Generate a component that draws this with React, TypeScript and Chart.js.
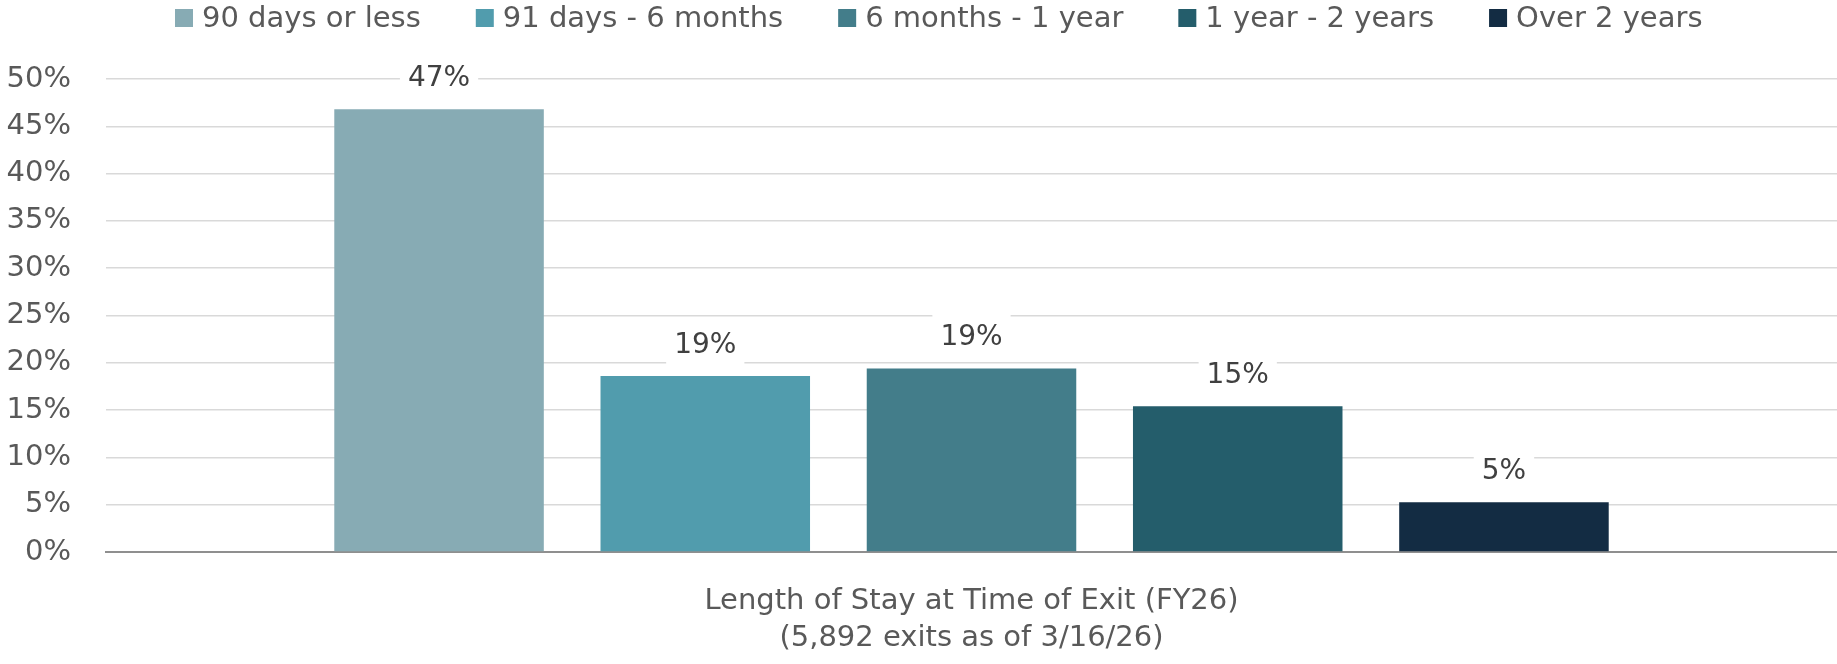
import React, { useEffect, useRef } from "react";
import { Chart, registerables } from "chart.js";

Chart.register(...registerables);

const categories = [""];
const seriesNames = [
  "90 days or less",
  "91 days - 6 months",
  "6 months - 1 year",
  "1 year - 2 years",
  "Over 2 years",
];
const seriesValues = [46.8, 18.6, 19.4, 15.4, 5.25];
const seriesColors = ["#87ABB4", "#519CAD", "#437D8A", "#245D6B", "#132C43"];
const yMax = 50;
const yStep = 5;
const axisTitle = ["Length of Stay at Time of Exit (FY26)", "(5,892 exits as of 3/16/26)"];

const FONT = "'DejaVu Sans', sans-serif";

const legendPlugin = {
  id: "customLegend",
  afterDraw(chart: any) {
    const ctx = chart.ctx;
    ctx.save();
    ctx.font = `29px ${FONT}`;
    ctx.textBaseline = "middle";
    ctx.textAlign = "left";
    let x = 175;
    const box = 18;
    const cy = 18;
    chart.data.datasets.forEach((ds: any) => {
      ctx.fillStyle = ds.backgroundColor;
      ctx.fillRect(x, cy - box / 2, box, box);
      x += box + 9;
      ctx.fillStyle = "#595959";
      ctx.fillText(ds.label, x, cy + 1);
      x += ctx.measureText(ds.label).width + 55;
    });
    ctx.restore();
  },
};

const labelPlugin = {
  id: "barLabels",
  afterDatasetsDraw(chart: any) {
    const ctx = chart.ctx;
    ctx.save();
    ctx.font = `28px ${FONT}`;
    ctx.textAlign = "center";
    ctx.textBaseline = "middle";
    chart.data.datasets.forEach((ds: any, i: number) => {
      const meta = chart.getDatasetMeta(i);
      meta.data.forEach((el: any, j: number) => {
        const v = ds.data[j];
        const text = Math.round(v) + "%";
        const cx = el.x;
        const cy = el.y - 30.5;
        const w = ctx.measureText(text).width + 16;
        ctx.fillStyle = "#ffffff";
        ctx.fillRect(cx - w / 2, cy - 24, w, 44);
        ctx.fillStyle = "#404040";
        ctx.fillText(text, cx, cy);
      });
    });
    ctx.restore();
  },
};

export default function App() {
  const ref = useRef<HTMLCanvasElement | null>(null);
  useEffect(() => {
    if (!ref.current) return;
    const chart = new Chart(ref.current, {
      type: "bar",
      data: {
        labels: categories,
        datasets: seriesNames.map((name, i) => ({
          label: name,
          data: [seriesValues[i]],
          backgroundColor: seriesColors[i],
          borderWidth: 0,
          categoryPercentage: 0.769,
          barPercentage: 0.787,
        })),
      },
      options: {
        responsive: false,
        animation: false,
        layout: { padding: { top: 79, left: 0, right: 0, bottom: 0 } },
        plugins: {
          legend: { display: false },
          tooltip: { enabled: false },
        },
        scales: {
          x: {
            grid: { display: false, drawTicks: false },
            border: { display: true, color: "#8f8f8f", width: 2 },
            ticks: { display: false },
            title: {
              display: true,
              text: axisTitle,
              color: "#595959",
              font: { family: FONT, size: 29, lineHeight: 37 / 29 },
              padding: { top: 30.5, bottom: 7.5 },
            },
          },
          y: {
            min: 0,
            max: yMax,
            afterFit(scale: any) {
              scale.width = 106;
            },
            ticks: {
              stepSize: yStep,
              padding: 35,
              color: "#595959",
              font: { family: FONT, size: 29 },
              callback: (v: any) => v + "%",
            },
            grid: {
              drawTicks: false,
              lineWidth: 1.5,
              color: (c: any) => (c.tick && c.tick.value === 0 ? "rgba(0,0,0,0)" : "#D9D9D9"),
            },
            border: { display: false },
          },
        },
      },
      plugins: [legendPlugin, labelPlugin],
    });
    return () => chart.destroy();
  }, []);
  return (
    <div style={{ position: "absolute", left: 0, top: 0, width: 1837, height: 664, background: "#fff" }}>
      <canvas ref={ref} width={1837} height={664} style={{ display: "block" }} />
    </div>
  );
}
